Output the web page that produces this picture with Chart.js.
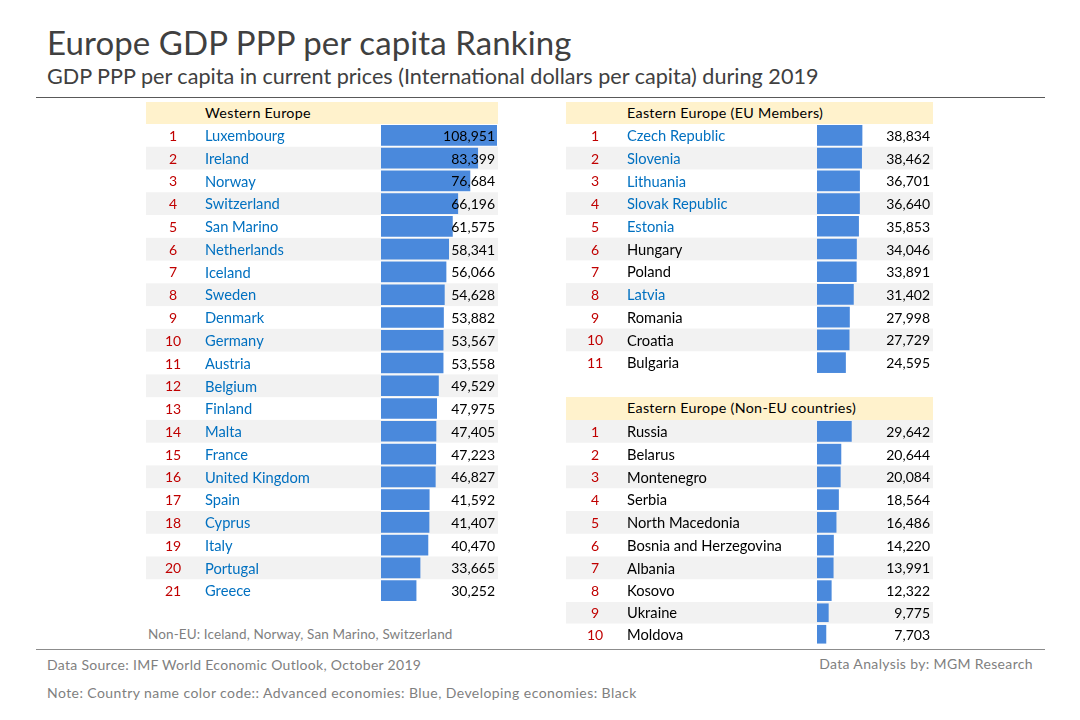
<!DOCTYPE html>
<html>
<head>
<meta charset="utf-8">
<title>Europe GDP PPP per capita Ranking</title>
<script src="https://cdn.jsdelivr.net/npm/chart.js@4"></script>
<style>
    html, body { margin: 0; padding: 0; background: #fff; }
    body { width: 1080px; height: 720px; position: relative; overflow: hidden; font-family: Lato, sans-serif; }
    .abs { position: absolute; white-space: nowrap; line-height: 1; }
    .title { left: 47px; top: 26px; font-size: 33px; color: #404040; letter-spacing: 0.1px; }
    .subtitle { left: 47px; top: 66px; font-size: 21.6px; color: #404040; }
    .rule { position: absolute; left: 36px; width: 1009px; height: 1px; }
    .band { position: absolute; height: 22px; background: #fff2cc; }
    .band span { position: absolute; top: 4px; font-size: 14.3px; color: #000; white-space: nowrap; line-height: 1; letter-spacing: 0.3px; }
    .note { font-size: 14px; color: #7f7f7f; letter-spacing: 0.3px; }
    canvas { position: absolute; }
</style>
</head>
<body>
<div class="abs title">Europe GDP PPP per capita Ranking</div>
<div class="abs subtitle">GDP PPP per capita in current prices (International dollars per capita) during 2019</div>
<div class="rule" style="top:97px;background:#595959"></div>

<div class="band" style="left:146px;top:102px;width:352px"><span style="left:59px">Western Europe</span></div>
<div class="band" style="left:566px;top:102px;width:367px"><span style="left:61px">Eastern Europe (EU Members)</span></div>
<div class="band" style="left:566px;top:397px;width:367px;height:23px"><span style="left:61px">Eastern Europe (Non-EU countries)</span></div>

<canvas id="western" style="left:146px;top:124px"></canvas>
<canvas id="easternEu" style="left:566px;top:124px"></canvas>
<canvas id="nonEu" style="left:566px;top:420px"></canvas>
<canvas id="nonEuLast" style="left:566px;top:602px"></canvas>

<div class="abs note" style="left:148px;top:628px;font-size:13.5px;letter-spacing:0.12px">Non-EU: Iceland, Norway, San Marino, Switzerland</div>
<div class="rule" style="top:649px;background:#8c8c8c"></div>
<div class="abs note" style="left:47px;top:658px">Data Source: IMF World Economic Outlook, October 2019</div>
<div class="abs note" style="right:47px;top:657px;letter-spacing:0.35px">Data Analysis by: MGM Research</div>
<div class="abs note" style="left:47px;top:686px;letter-spacing:0.43px">Note: Country name color code:: Advanced economies: Blue, Developing economies: Black</div>

<script>
var westernNames = ['Luxembourg', 'Ireland', 'Norway', 'Switzerland', 'San Marino', 'Netherlands', 'Iceland', 'Sweden', 'Denmark', 'Germany', 'Austria', 'Belgium', 'Finland', 'Malta', 'France', 'United Kingdom', 'Spain', 'Cyprus', 'Italy', 'Portugal', 'Greece']
var westernValues = [108951, 83399, 76684, 66196, 61575, 58341, 56066, 54628, 53882, 53567, 53558, 49529, 47975, 47405, 47223, 46827, 41592, 41407, 40470, 33665, 30252]

var easternEuNames = ['Czech Republic', 'Slovenia', 'Lithuania', 'Slovak Republic', 'Estonia', 'Hungary', 'Poland', 'Latvia', 'Romania', 'Croatia', 'Bulgaria']
var easternEuValues = [38834, 38462, 36701, 36640, 35853, 34046, 33891, 31402, 27998, 27729, 24595]

var nonEuNames = ['Russia', 'Belarus', 'Montenegro', 'Serbia', 'North Macedonia', 'Bosnia and Herzegovina', 'Albania', 'Kosovo', 'Ukraine', 'Moldova']
var nonEuValues = [29642, 20644, 20084, 18564, 16486, 14220, 13991, 12322, 9775, 7703]

// everyone in the western table is advanced, plus these
var advancedEast = ['Czech Republic', 'Slovenia', 'Lithuania', 'Slovak Republic', 'Estonia', 'Latvia']

var BLUE_NAME = '#0070c0'
var BLACK_NAME = '#000000'
var RED_RANK = '#c00000'
var BAR_COLOR = '#4a89dc'
var STRIPE = '#f2f2f2'
var NAME_SIZE = 14.7
var NUMBER_SIZE = 14

// stripes go under everything, rank, name and value text on top of the bars
var rowPlugin = {
    id: 'rowPlugin',
    beforeDraw: function (chart, args, opts) {
        var ctx = chart.ctx
        var y = chart.scales.y
        var half = (y.getPixelForValue(1) - y.getPixelForValue(0)) / 2
        ctx.save()
        ctx.fillStyle = STRIPE
        chart.data.labels.forEach(function (name, i) {
            if ((opts.firstRank + i) % 2 === opts.greyParity) {
                ctx.fillRect(0, y.getPixelForValue(i) - half, chart.width, half * 2)
            }
        })
        ctx.restore()
    },
    afterDatasetsDraw: function (chart, args, opts) {
        var ctx = chart.ctx
        var y = chart.scales.y
        var values = chart.data.datasets[0].data
        ctx.save()
        ctx.textBaseline = 'middle'
        values.forEach(function (value, i) {
            var rowY = y.getPixelForValue(i) + 1
            var name = chart.data.labels[i]
            ctx.font = NUMBER_SIZE + 'px Lato'
            ctx.fillStyle = RED_RANK
            ctx.textAlign = 'center'
            ctx.fillText(String(opts.firstRank + i), opts.rankX, rowY)
            ctx.fillStyle = '#000'
            ctx.textAlign = 'right'
            ctx.fillText(value.toLocaleString('en-US'), chart.width - 3, rowY)
            ctx.font = NAME_SIZE + 'px Lato'
            ctx.fillStyle = opts.allAdvanced || advancedEast.indexOf(name) >= 0 ? BLUE_NAME : BLACK_NAME
            ctx.textAlign = 'left'
            ctx.fillText(name, opts.nameX, rowY)
        })
        ctx.restore()
    }
}

function drawTable(id, names, values, o) {
    var canvas = document.getElementById(id)
    canvas.width = o.width
    canvas.height = o.height
    return new Chart(canvas.getContext('2d'), {
        type: 'bar',
        plugins: [rowPlugin],
        data: {
            labels: names,
            datasets: [{
                data: values,
                backgroundColor: BAR_COLOR,
                barThickness: o.barHeight,
                borderWidth: 0
            }]
        },
        options: {
            indexAxis: 'y',
            responsive: false,
            animation: false,
            devicePixelRatio: 1,
            layout: { padding: { left: o.barX, right: o.width - o.barX - 116, top: 0, bottom: 0 } },
            plugins: {
                legend: { display: false },
                tooltip: { enabled: false },
                rowPlugin: { firstRank: o.firstRank, greyParity: o.greyParity, rankX: o.rankX, nameX: o.nameX, allAdvanced: o.allAdvanced }
            },
            scales: {
                x: { display: false, min: 0, max: 100000 },
                y: { display: false }
            }
        }
    })
}

drawTable('western', westernNames, westernValues, {
    width: 352, height: 478, barHeight: 20, nameX: 59, barX: 235, rankX: 27,
    firstRank: 1, greyParity: 0, allAdvanced: true
})
drawTable('easternEu', easternEuNames, easternEuValues, {
    width: 367, height: 250, barHeight: 20, nameX: 61, barX: 251, rankX: 29,
    firstRank: 1, greyParity: 0
})
// the last two rows of this table are a little shorter in the original
drawTable('nonEu', nonEuNames.slice(0, 8), nonEuValues.slice(0, 8), {
    width: 367, height: 182, barHeight: 20, nameX: 61, barX: 251, rankX: 29,
    firstRank: 1, greyParity: 1
})
drawTable('nonEuLast', nonEuNames.slice(8), nonEuValues.slice(8), {
    width: 367, height: 43, barHeight: 18, nameX: 61, barX: 251, rankX: 29,
    firstRank: 9, greyParity: 1
})
</script>
</body>
</html>
